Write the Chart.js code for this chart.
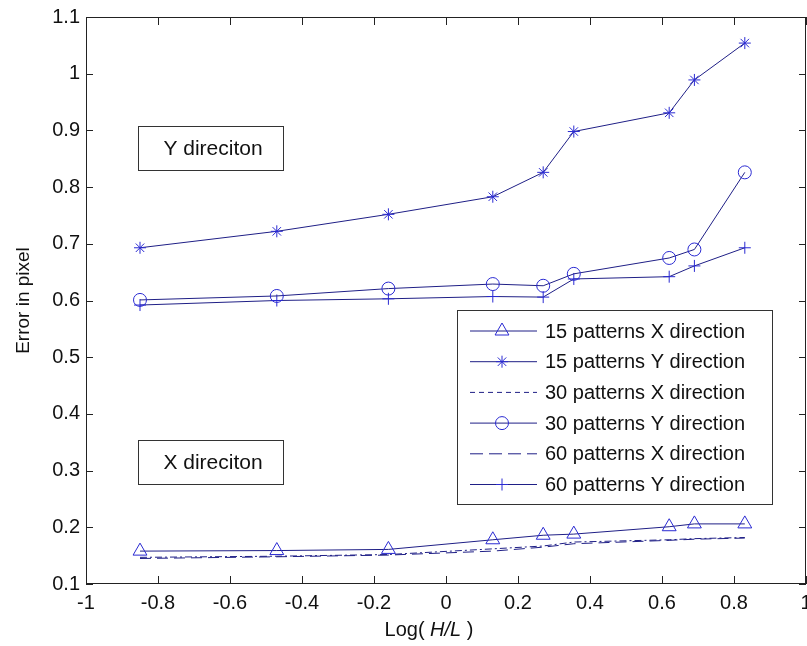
<!DOCTYPE html>
<html>
<head>
<meta charset="utf-8">
<title>Error in pixel vs Log(H/L)</title>
<script src="https://cdn.jsdelivr.net/npm/chart.js@4/dist/chart.umd.min.js"></script>
<style>
  html, body { margin: 0; padding: 0; background: #fff; }
  #wrap { width: 807px; height: 646px; }
</style>
</head>
<body>
<div id="wrap"><canvas id="c" width="807" height="646"></canvas></div>
<script>
// x values: Log(H/L)
var logHL = [-0.85, -0.47, -0.16, 0.13, 0.27, 0.355, 0.62, 0.69, 0.83];

// errors in pixel
var p15X = [0.158, 0.159, 0.161, 0.178, 0.186, 0.188, 0.201, 0.206, 0.206];
var p15Y = [0.693, 0.722, 0.752, 0.783, 0.826, 0.898, 0.931, 0.989, 1.054];
var p30X = [0.147, 0.149, 0.152, 0.162, 0.167, 0.174, 0.178, 0.180, 0.182];
var p30Y = [0.601, 0.608, 0.621, 0.629, 0.626, 0.647, 0.675, 0.690, 0.826];
var p60X = [0.145, 0.148, 0.151, 0.158, 0.165, 0.171, 0.177, 0.179, 0.181];
var p60Y = [0.592, 0.600, 0.603, 0.607, 0.606, 0.638, 0.642, 0.661, 0.693];

var seriesNames = [
  "15 patterns X direction",
  "15 patterns Y direction",
  "30 patterns X direction",
  "30 patterns Y direction",
  "60 patterns X direction",
  "60 patterns Y direction"
];

var FONT = "'Liberation Sans', Arial, sans-serif";
var lineCol = "#1f1f86";
var markCol = "#2a2ad2";

function pts(ys) {
  return logHL.map(function(x, i) { return { x: x, y: ys[i] }; });
}

function fmt(v) {
  if (Math.abs(v) < 1e-9) return "0";
  return String(parseFloat(v.toFixed(1)));
}

// matlab-like box, inward ticks, text boxes, legend and x title
var matlabAxes = {
  id: "matlabAxes",
  afterDraw: function(chart) {
    var ctx = chart.ctx;
    var a = chart.chartArea;
    var xs = chart.scales.x, ys = chart.scales.y;
    ctx.save();
    ctx.strokeStyle = "#222";
    ctx.lineWidth = 1;
    ctx.strokeRect(a.left + 0.5, a.top + 0.5, a.right - a.left - 1, a.bottom - a.top - 1);

    ctx.beginPath();
    xs.ticks.forEach(function(t) {
      var px = Math.round(xs.getPixelForValue(t.value)) + 0.5;
      ctx.moveTo(px, a.bottom); ctx.lineTo(px, a.bottom - 8);
      ctx.moveTo(px, a.top); ctx.lineTo(px, a.top + 8);
    });
    ys.ticks.forEach(function(t) {
      var py = Math.round(ys.getPixelForValue(t.value)) + 0.5;
      ctx.moveTo(a.left, py); ctx.lineTo(a.left + 7, py);
      ctx.moveTo(a.right, py); ctx.lineTo(a.right - 7, py);
    });
    ctx.stroke();

    // text boxes
    ctx.font = "21px " + FONT;
    ctx.textBaseline = "middle";
    ctx.textAlign = "center";
    [["Y direciton", 126], ["X direciton", 440]].forEach(function(b) {
      ctx.fillStyle = "#fff";
      ctx.fillRect(138, b[1], 145, 44);
      ctx.strokeStyle = "#333";
      ctx.strokeRect(138.5, b[1] + 0.5, 145, 44);
      ctx.fillStyle = "#111";
      ctx.fillText(b[0], 213, b[1] + 23);
    });

    // legend
    var lx = 457, ly = 310, lw = 315, lh = 194;
    ctx.fillStyle = "#fff";
    ctx.fillRect(lx, ly, lw, lh);
    ctx.strokeStyle = "#333";
    ctx.strokeRect(lx + 0.5, ly + 0.5, lw, lh);
    ctx.font = "20px " + FONT;
    chart.data.datasets.forEach(function(ds, i) {
      var y = ly + 21 + i * 30.7;
      ctx.save();
      ctx.strokeStyle = ds.borderColor;
      ctx.lineWidth = ds.borderWidth;
      ctx.setLineDash(ds.legendDash || ds.borderDash || []);
      ctx.beginPath();
      ctx.moveTo(470, y); ctx.lineTo(537, y);
      ctx.stroke();
      ctx.setLineDash([]);
      if (ds.pointRadius > 0 && Chart.helpers && Chart.helpers.drawPoint) {
        ctx.strokeStyle = ds.pointBorderColor;
        ctx.fillStyle = "rgba(0,0,0,0)";
        ctx.lineWidth = 1;
        Chart.helpers.drawPoint(ctx, { pointStyle: ds.pointStyle, rotation: 0, radius: ds.pointRadius, borderWidth: 1 }, 502, y);
      }
      ctx.restore();
      ctx.fillStyle = "#111";
      ctx.textAlign = "left";
      ctx.fillText(ds.label, 545, y + 1);
    });

    // x axis title with italic H/L
    var cx = (a.left + a.right) / 2 - 17, ty = 630;
    var parts = [["Log( ", ""], ["H/L", "italic "], [" )", ""]];
    var total = 0;
    parts.forEach(function(p) { ctx.font = p[1] + "20px " + FONT; total += ctx.measureText(p[0]).width; });
    var x0 = cx - total / 2;
    ctx.textAlign = "left";
    ctx.fillStyle = "#111";
    parts.forEach(function(p) {
      ctx.font = p[1] + "20px " + FONT;
      ctx.fillText(p[0], x0, ty);
      x0 += ctx.measureText(p[0]).width;
    });
    ctx.restore();
  }
};

function ds(label, ys, style, radius, dash, legendDash) {
  return {
    label: label,
    data: pts(ys),
    borderColor: lineCol,
    borderWidth: 1,
    borderDash: dash || [],
    legendDash: legendDash,
    pointStyle: style || "circle",
    pointRadius: radius || 0,
    pointHoverRadius: radius || 0,
    pointBorderColor: markCol,
    pointBackgroundColor: "rgba(0,0,0,0)",
    pointBorderWidth: 1,
    fill: false,
    tension: 0
  };
}

var chart = new Chart(document.getElementById("c").getContext("2d"), {
  type: "line",
  data: {
    datasets: [
      ds(seriesNames[0], p15X, "triangle", 8),
      ds(seriesNames[1], p15Y, "star", 6),
      ds(seriesNames[2], p30X, null, 0, [7, 3, 2, 3], [5, 4]),
      ds(seriesNames[3], p30Y, "circle", 6.5),
      ds(seriesNames[4], p60X, null, 0, [11, 6], [13, 6]),
      ds(seriesNames[5], p60Y, "cross", 6)
    ]
  },
  options: {
    responsive: false,
    animation: false,
    events: [],
    layout: { autoPadding: false, padding: { top: 17, right: 1, left: 0, bottom: 0 } },
    plugins: {
      legend: { display: false },
      tooltip: { enabled: false }
    },
    scales: {
      x: {
        type: "linear",
        min: -1,
        max: 1,
        grid: { display: false, drawTicks: false },
        border: { display: false },
        ticks: {
          stepSize: 0.2,
          color: "#111",
          padding: 7,
          maxRotation: 0,
          autoSkip: false,
          font: { family: FONT, size: 20 },
          callback: function(v) { return fmt(v); }
        },
        afterFit: function(s) {
          s.height = 62;
          s.paddingLeft = 0;
          s.paddingRight = 0;
        }
      },
      y: {
        min: 0.1,
        max: 1.1,
        grid: { display: false, drawTicks: false },
        border: { display: false },
        title: {
          display: true,
          text: "Error in pixel",
          color: "#111",
          font: { family: FONT, size: 19 },
          padding: { top: 12, bottom: 0 }
        },
        ticks: {
          stepSize: 0.1,
          color: "#111",
          padding: 6,
          autoSkip: false,
          font: { family: FONT, size: 20 },
          callback: function(v) { return fmt(v); }
        },
        afterFit: function(s) {
          s.width = 86;
          s.paddingTop = 0;
          s.paddingBottom = 0;
        }
      }
    }
  },
  plugins: [matlabAxes]
});
</script>
</body>
</html>
